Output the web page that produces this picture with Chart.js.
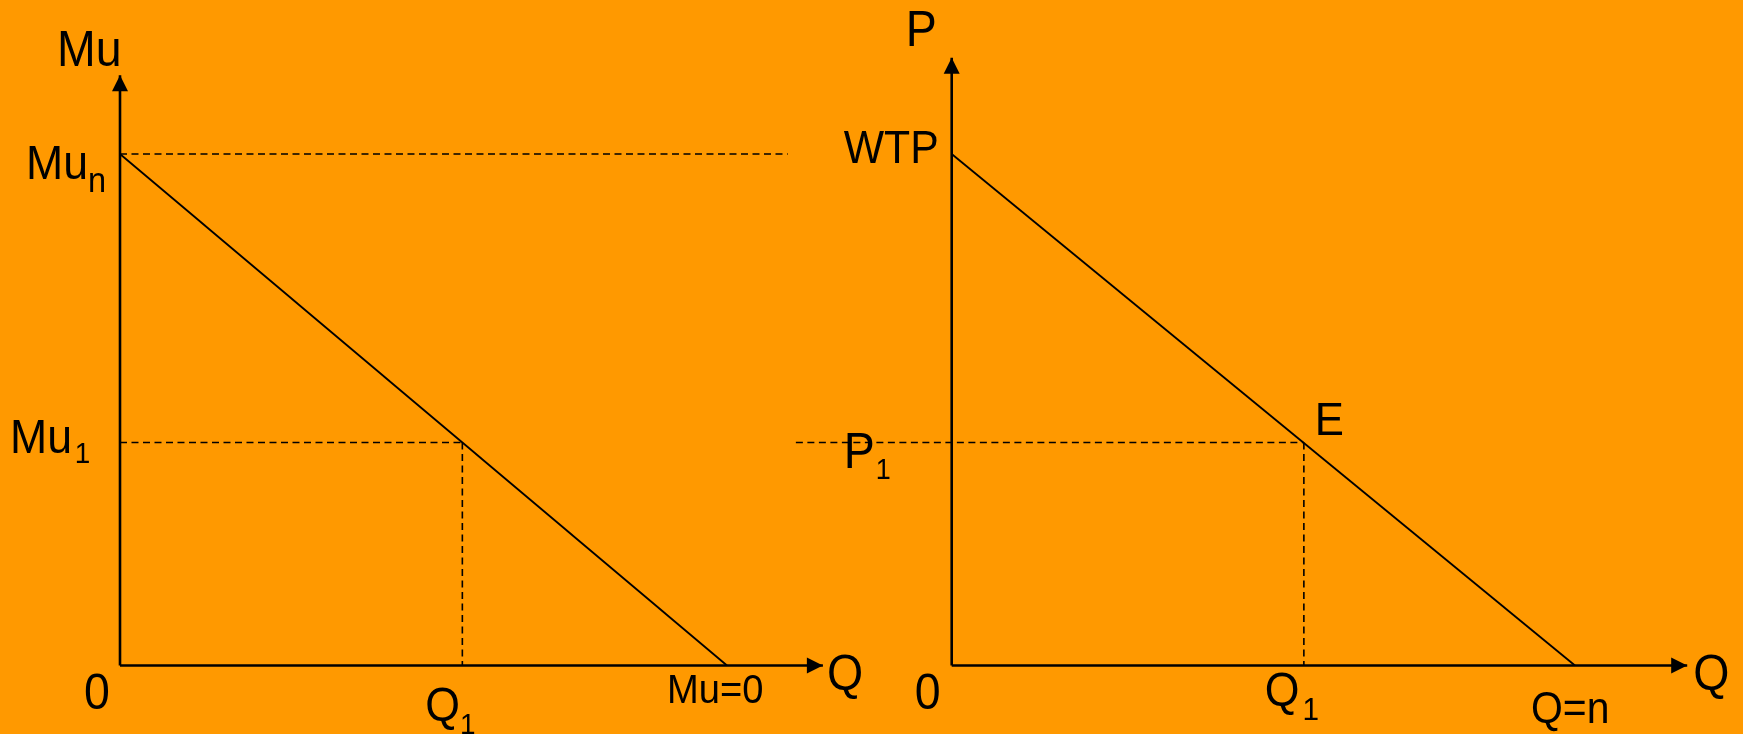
<!DOCTYPE html>
<html>
<head>
<meta charset="utf-8">
<script src="https://cdn.jsdelivr.net/npm/chart.js@4"></script>
<style>
  html, body { margin: 0; padding: 0; background: #ff9900; }
  #wrap { width: 1743px; height: 734px; }
</style>
</head>
<body>
<div id="wrap"><canvas id="mu" width="1743" height="734"></canvas></div>
<script>
// ── data ─────────────────────────────────────────────
// left panel: marginal utility
const muLevels = [10, 4.36];          // Mu_n, Mu_1
const muQuantities = [5.64, 10];      // Q_1, Q at Mu=0
const muAxisEnds = [11.58, 11.54];    // x arrow, y arrow
const muGuideEnd = 11;                // end of the Mu_n dashed line

// right panel: demand
const priceLevels = [10, 4.36];       // WTP, P_1
const demandQuantities = [5.65, 10];  // Q_1, Q=n
const demandAxisEnds = [11.8, 11.88]; // x arrow, y arrow
const priceGuideStart = -2.5;         // P_1 dashed line starts left of the axis

// text labels
const muLabels = ['Mu', 'Mu', 'Mu', '0', 'Q', 'Mu=0', 'Q'];
const muSubs = ['', 'n', '1', '', '1', '', ''];
const demandLabels = ['P', 'WTP', 'P', 'E', '0', 'Q', 'Q=n', 'Q'];
const demandSubs = ['', '', '1', '', '', '1', '', ''];

const FONT = '"Liberation Sans", Arial, sans-serif';
const TEXT_SQUEEZE = 0.93;  // the original lettering is a bit narrow

// ── datasets ─────────────────────────────────────────
const solid = (xAxisID, data, width, arrow) => ({
  xAxisID, data, borderColor: '#000', borderWidth: width,
  pointRadius: 0, fill: false, clip: false, arrow: !!arrow
});
const dashed = (xAxisID, data) => ({
  xAxisID, data, borderColor: '#000', borderWidth: 1.6,
  borderDash: [7, 4.5], pointRadius: 0, fill: false, clip: false
});

const datasets = [
  // left
  solid('xl', [{x: 0, y: 0}, {x: 0, y: muAxisEnds[1]}], 2.6, true),
  solid('xl', [{x: 0, y: 0}, {x: muAxisEnds[0], y: 0}], 2.6, true),
  solid('xl', [{x: 0, y: muLevels[0]}, {x: muQuantities[1], y: 0}], 1.8),
  dashed('xl', [{x: 0, y: muLevels[0]}, {x: muGuideEnd, y: muLevels[0]}]),
  dashed('xl', [{x: 0, y: muLevels[1]}, {x: muQuantities[0], y: muLevels[1]}]),
  dashed('xl', [{x: muQuantities[0], y: muLevels[1]}, {x: muQuantities[0], y: 0}]),
  // right
  solid('xr', [{x: 0, y: 0}, {x: 0, y: demandAxisEnds[1]}], 2.6, true),
  solid('xr', [{x: 0, y: 0}, {x: demandAxisEnds[0], y: 0}], 2.6, true),
  solid('xr', [{x: 0, y: priceLevels[0]}, {x: demandQuantities[1], y: 0}], 1.8),
  dashed('xr', [{x: priceGuideStart, y: priceLevels[1]}, {x: demandQuantities[0], y: priceLevels[1]}]),
  dashed('xr', [{x: demandQuantities[0], y: priceLevels[1]}, {x: demandQuantities[0], y: 0}])
];

// label anchors (data values) with pixel offsets
const labelSpecs = [
  // left
  {axis: 'xl', x: 0, y: muAxisEnds[1], dx: -63, dy: -9, size: 50},
  {axis: 'xl', x: 0, y: muLevels[0], dx: -94, dy: 25, size: 48, subSize: 35, subDy: 13},
  {axis: 'xl', x: 0, y: muLevels[1], dx: -110, dy: 11, size: 48, subSize: 30, subDy: 10, subDx: 3},
  {axis: 'xl', x: 0, y: 0, dx: -36, dy: 43, size: 50},
  {axis: 'xl', x: muQuantities[0], y: 0, dx: -37, dy: 55, size: 48, subSize: 30, subDy: 13},
  {axis: 'xl', x: muQuantities[1], y: 0, dx: -60, dy: 37, size: 41},
  {axis: 'xl', x: muAxisEnds[0], y: 0, dx: 4, dy: 24, size: 50},
  // right
  {axis: 'xr', x: 0, y: demandAxisEnds[1], dx: -46, dy: -12, size: 50},
  {axis: 'xr', x: 0, y: priceLevels[0], dx: -108, dy: 9, size: 46},
  {axis: 'xr', x: 0, y: priceLevels[1], dx: -108, dy: 26, size: 50, subSize: 29, subDy: 11, subDx: 1},
  {axis: 'xr', x: demandQuantities[0], y: priceLevels[1], dx: 11, dy: -7, size: 47},
  {axis: 'xr', x: 0, y: 0, dx: -37, dy: 43, size: 50},
  {axis: 'xr', x: demandQuantities[0], y: 0, dx: -39, dy: 40, size: 48, subSize: 32, subDy: 14, subDx: 3},
  {axis: 'xr', x: demandQuantities[1], y: 0, dx: -44, dy: 57, size: 44},
  {axis: 'xr', x: demandAxisEnds[0], y: 0, dx: 6, dy: 24, size: 50}
];
const allTexts = muLabels.concat(demandLabels);
const allSubs = muSubs.concat(demandSubs);

// ── plugins ──────────────────────────────────────────
const arrowHeads = {
  id: 'arrowHeads',
  afterDatasetsDraw(chart) {
    const ctx = chart.ctx;
    chart.data.datasets.forEach((ds, i) => {
      if (!ds.arrow) return;
      const pts = chart.getDatasetMeta(i).data;
      const a = pts[pts.length - 2], b = pts[pts.length - 1];
      const ang = Math.atan2(b.y - a.y, b.x - a.x);
      const len = 16, half = 8;
      ctx.save();
      ctx.translate(b.x, b.y);
      ctx.rotate(ang);
      ctx.fillStyle = '#000';
      ctx.beginPath();
      ctx.moveTo(0, 0);
      ctx.lineTo(-len, -half);
      ctx.lineTo(-len, half);
      ctx.closePath();
      ctx.fill();
      ctx.restore();
    });
  }
};

const textLabels = {
  id: 'textLabels',
  afterDraw(chart) {
    const ctx = chart.ctx;
    const yScale = chart.scales.y;
    labelSpecs.forEach((s, i) => {
      const px = chart.scales[s.axis].getPixelForValue(s.x) + s.dx;
      const py = yScale.getPixelForValue(s.y) + s.dy;
      ctx.save();
      ctx.fillStyle = '#000';
      ctx.textBaseline = 'alphabetic';
      ctx.textAlign = 'left';
      ctx.translate(px, py);
      ctx.scale(TEXT_SQUEEZE, 1);
      ctx.font = s.size + 'px ' + FONT;
      ctx.fillText(allTexts[i], 0, 0);
      if (allSubs[i]) {
        const w = ctx.measureText(allTexts[i]).width;
        ctx.font = s.subSize + 'px ' + FONT;
        ctx.fillText(allSubs[i], w + (s.subDx || 0), s.subDy);
      }
      ctx.restore();
    });
  }
};

// ── chart ────────────────────────────────────────────
new Chart(document.getElementById('mu'), {
  type: 'line',
  data: { datasets },
  plugins: [arrowHeads, textLabels],
  options: {
    responsive: false,
    animation: false,
    layout: { padding: 0 },
    plugins: { legend: { display: false }, tooltip: { enabled: false } },
    elements: { line: { tension: 0, borderCapStyle: 'butt' } },
    scales: {
      xl: { type: 'linear', display: false, min: -1.9769, max: 26.7381 },
      xr: { type: 'linear', display: false, min: -15.2687, max: 12.6953 },
      y: { type: 'linear', display: false, min: -1.3392, max: 13.0108 }
    }
  }
});
</script>
</body>
</html>
